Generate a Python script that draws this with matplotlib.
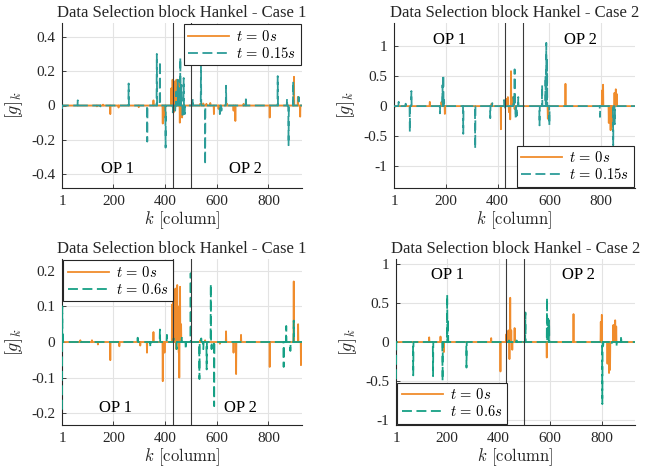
import numpy as np
import matplotlib
matplotlib.use("Agg")
import matplotlib.pyplot as plt
from matplotlib.ticker import FuncFormatter

plt.rcParams["font.family"] = ["Liberation Serif", "DejaVu Serif"]
plt.rcParams["mathtext.fontset"] = "cm"
plt.rcParams["axes.unicode_minus"] = False

K_MAX = 930
K_SWITCH = [430, 500]

# --- spikes: (column k, value) ---
tl_t0 = [(136, -0.005), (160, 0.005), (188, -0.05), (220, -0.012), (298, -0.01),
         (355, 0.03), (391, -0.105), (400, -0.07), (424, 0.1), (429, 0.15),
         (433, -0.04), (436, 0.14), (440, 0.12), (444, 0.15), (448, 0.1),
         (452, 0.13), (455, 0.15), (457, -0.1), (460, 0.08), (466, -0.07),
         (536, 0.01), (548, 0.012), (560, 0.01), (575, 0.015), (589, -0.05),
         (607, -0.02), (640, 0.01), (665, -0.03), (672, -0.09), (704, 0.01),
         (805, -0.07), (899, 0.167), (914, 0.05), (923, -0.065)]
tl_t1 = [(1, -0.02), (62, 0.03), (150, -0.005), (259, 0.128), (331, -0.21),
         (368, 0.30), (380, 0.256), (402, -0.245), (430, -0.04), (439, -0.03),
         (443, 0.08), (449, 0.15), (453, 0.1), (459, 0.278), (463, 0.12),
         (468, -0.07), (472, 0.16), (476, -0.05), (507, 0.04), (539, 0.24),
         (555, -0.344), (612, -0.05), (618, -0.03), (636, 0.115), (713, 0.05),
         (836, 0.171), (872, 0.04), (878, -0.231), (896, 0.14), (917, 0.05)]

tr_t0 = [(3, -0.02), (139, 0.07), (184, 0.07), (197, -0.13), (377, 0.04),
         (413, -0.385), (430, 0.1), (436, 0.12), (440, 0.15), (444, -0.1),
         (449, -0.22), (452, 0.58), (456, 0.15), (460, 0.1), (466, -0.05),
         (594, -0.21), (662, 0.37), (803, 0.26), (807, 0.355), (829, -0.28),
         (836, -0.40), (840, -0.35), (851, 0.22), (856, 0.28), (860, 0.2)]
tr_t1 = [(19, 0.07), (46, 0.04), (62, -0.43), (68, 0.25), (178, -0.12),
         (188, 0.35), (191, 0.52), (194, 0.1), (268, -0.46), (314, -0.705),
         (372, -0.2), (380, 0.05), (425, 0.1), (430, -0.05), (462, 0.15),
         (466, 0.61), (470, -0.2), (474, -0.16), (480, 0.15), (562, -0.32),
         (572, 0.35), (585, 0.5), (588, 1.05), (591, 0.8), (600, -0.32),
         (795, -0.18), (846, -0.65), (852, -0.3)]

bl_t0 = [(72, 0.005), (117, 0.005), (140, -0.007), (188, -0.051), (223, -0.012),
         (304, -0.01), (330, -0.03), (355, 0.028), (391, -0.11), (398, -0.03),
         (427, 0.105), (432, 0.12), (436, 0.146), (440, 0.15), (443, -0.02),
         (447, 0.16), (450, 0.1), (453, -0.03), (455, -0.1), (458, 0.155),
         (462, 0.05), (536, 0.005), (555, 0.005), (612, -0.005), (636, 0.03),
         (665, -0.03), (675, -0.09), (694, 0.02), (805, -0.07), (898, 0.17),
         (915, 0.05), (926, -0.065)]
bl_t1 = [(1, -0.19), (2, 0.1), (4, 0.02), (72, 0.005), (294, 0.012),
         (343, -0.015), (380, 0.035), (407, 0.02), (433, 0.01), (445, -0.02),
         (465, 0.015), (480, -0.02), (499, 0.193), (533, -0.104), (540, 0.01),
         (548, -0.02), (561, -0.077), (577, 0.163), (580, -0.02), (590, -0.18),
         (859, -0.07), (869, 0.045), (885, -0.025), (898, 0.06)]

br_t0 = [(130, 0.06), (174, 0.07), (187, -0.13), (371, 0.05), (407, -0.38),
         (430, 0.1), (434, 0.12), (438, 0.15), (442, -0.22), (445, 0.57),
         (449, 0.15), (453, -0.1), (462, 0.18), (587, -0.2), (691, 0.36),
         (797, 0.26), (801, 0.35), (823, -0.28), (829, -0.40), (833, -0.36),
         (846, 0.22), (853, 0.28), (857, 0.2)]
br_t1 = [(1, -0.48), (68, -0.43), (145, -0.44), (182, -0.5), (200, 0.61),
         (203, 0.3), (275, -0.33), (440, 0.02), (455, -0.02), (470, 0.02),
         (490, 0.03), (504, 0.38), (588, 0.57), (592, 0.3), (596, 0.28),
         (803, -0.8), (806, -0.08), (839, -0.03), (859, -0.06), (876, 0.08)]

titles = ["Data Selection block Hankel - Case 1", "Data Selection block Hankel - Case 2"]
t_labels_top = [r"$t\,=\,0s$", r"$t\,=\,0.15s$"]
t_labels_bot = [r"$t\,=\,0s$", r"$t\,=\,0.6s$"]
x_ticks = [1, 200, 400, 600, 800]

ORANGE = "#F08C2C"
TEAL_TOP = "#2C9C98"
TEAL_BOT = "#16A085"
DARK = "#262626"


def signal(spikes):
    g = np.zeros(K_MAX)
    for k, v in spikes:
        g[k - 1] = v
    return g


panels = [
    # rect(px), spikes t0, spikes t1, ylim, yticks, title, labels, teal, legend loc, OP y, OP x
    ([62, 23, 240, 165], tl_t0, tl_t1, (-0.48, 0.48), [-0.4, -0.2, 0, 0.2, 0.4],
     titles[0], t_labels_top, TEAL_TOP, "upper right", -0.37, (214, 710)),
    ([394, 23, 241, 165], tr_t0, tr_t1, (-1.36, 1.38), [-1, -0.5, 0, 0.5, 1],
     titles[1], t_labels_top, TEAL_TOP, "lower right", 1.09, (215, 720)),
    ([62, 259, 240, 166], bl_t0, bl_t1, (-0.233, 0.233), [-0.2, -0.1, 0, 0.1, 0.2],
     titles[0], t_labels_bot, TEAL_BOT, "upper left", -0.185, (207, 690)),
    ([396, 259, 239, 166], br_t0, br_t1, (-1.07, 1.07), [-1, -0.5, 0, 0.5, 1],
     titles[1], t_labels_bot, TEAL_BOT, "lower left", 0.87, (203, 712)),
]

W, H = 655, 467
fig = plt.figure(figsize=(W / 100, H / 100), dpi=100)
k = np.arange(1, K_MAX + 1)

for rect, s0, s1, ylim, yt, title, labs, teal, loc, op_y, op_x in panels:
    x0, y0, w, h = rect
    ax = fig.add_axes([x0 / W, (H - y0 - h) / H, w / W, h / H])
    ax.grid(True, color="#e3e3e3", lw=0.8, zorder=0)
    ax.set_axisbelow(True)
    ax.plot(k, signal(s0), color=ORANGE, lw=1.3, label=labs[0], zorder=2)
    ax.plot(k, signal(s1), color=teal, lw=1.3, ls=(0, (5.5, 2.5)), label=labs[1], zorder=3)
    for xv in K_SWITCH:
        ax.axvline(xv, color="#3a3a3a", lw=0.8, zorder=4)
    ax.set_xlim(1, K_MAX)
    ax.set_ylim(*ylim)
    ax.set_xticks(x_ticks)
    ax.set_yticks(yt)
    ax.yaxis.set_major_formatter(FuncFormatter(lambda v, p: "%g" % round(v, 3)))
    for sp in ["top", "right"]:
        ax.spines[sp].set_visible(False)
    for sp in ["left", "bottom"]:
        ax.spines[sp].set_color(DARK)
        ax.spines[sp].set_linewidth(0.8)
    ax.tick_params(direction="in", length=3, width=0.6, colors=DARK,
                   labelsize=11, pad=5)
    ax.set_title(title, fontsize=12, color=DARK, pad=4)
    ax.set_xlabel(r"$k$ [column]", fontsize=12, color=DARK, labelpad=1,
                  fontfamily="cmr10")
    ax.set_ylabel(r"$[g]_k$", fontsize=13, color=DARK, labelpad=4)
    ax.text(op_x[0], op_y, "OP 1", ha="center", va="center", fontsize=12, color="black")
    ax.text(op_x[1], op_y, "OP 2", ha="center", va="center", fontsize=12, color="black")
    leg = ax.legend(loc=loc, fontsize=10.5, fancybox=False, framealpha=1,
                    edgecolor=DARK, handlelength=2.8, borderpad=0.3,
                    labelspacing=0.15, handletextpad=0.5, borderaxespad=0.1)
    leg.get_frame().set_linewidth(0.8)

fig.savefig("out.png", dpi=100)
